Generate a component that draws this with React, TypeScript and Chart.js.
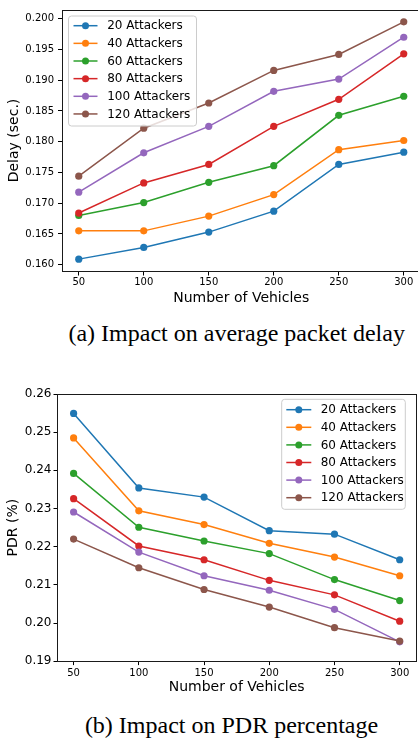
import React, { useEffect, useRef } from 'react';
import { Chart, registerables } from 'chart.js';

Chart.register(...registerables);

// ---------------- data ----------------
const vehicles = [50, 100, 150, 200, 250, 300];
const seriesLabels = ['20 Attackers', '40 Attackers', '60 Attackers', '80 Attackers', '100 Attackers', '120 Attackers'];
const seriesColors = ['#1f77b4', '#ff7f0e', '#2ca02c', '#d62728', '#9467bd', '#8c564b'];

const delay20 = [0.1609, 0.1628, 0.1653, 0.1687, 0.1763, 0.1783];
const delay40 = [0.1655, 0.1655, 0.1679, 0.1714, 0.1787, 0.1802];
const delay60 = [0.1680, 0.1701, 0.1734, 0.1761, 0.1843, 0.1874];
const delay80 = [0.1684, 0.1733, 0.1763, 0.1825, 0.1869, 0.1943];
const delay100 = [0.1718, 0.1782, 0.1825, 0.1882, 0.1902, 0.1970];
const delay120 = [0.1744, 0.1822, 0.1863, 0.1916, 0.1942, 0.1995];

const pdr20 = [0.2549, 0.2354, 0.2330, 0.2242, 0.2233, 0.2166];
const pdr40 = [0.2485, 0.2294, 0.2258, 0.2209, 0.2173, 0.2124];
const pdr60 = [0.2392, 0.2251, 0.2215, 0.2182, 0.2114, 0.2059];
const pdr80 = [0.2326, 0.2202, 0.2166, 0.2112, 0.2074, 0.2005];
const pdr100 = [0.2291, 0.2186, 0.2124, 0.2086, 0.2036, 0.1951];
const pdr120 = [0.2220, 0.2145, 0.2088, 0.2042, 0.1988, 0.1953];

const delayTicks = [0.160, 0.165, 0.170, 0.175, 0.180, 0.185, 0.190, 0.195, 0.200];
const pdrTicks = [0.19, 0.20, 0.21, 0.22, 0.23, 0.24, 0.25, 0.26];

const delaySeries = [delay20, delay40, delay60, delay80, delay100, delay120];
const pdrSeries = [pdr20, pdr40, pdr60, pdr80, pdr100, pdr120];

// ---------------- styling helpers ----------------
const FONT = '"DejaVu Sans", Verdana, sans-serif';

const framePlugin = {
  id: 'frame',
  afterDatasetsDraw(chart: any) {
    const { ctx, chartArea: a } = chart;
    ctx.save();
    ctx.strokeStyle = '#1a1a1a';
    ctx.lineWidth = 1;
    const l = Math.floor(a.left) + 0.5;
    const t = Math.floor(a.top) + 0.5;
    const r = Math.floor(a.right) + 0.5;
    const b = Math.floor(a.bottom) + 0.5;
    ctx.strokeRect(l, t, r - l, b - t);
    ctx.restore();
  },
};

const legendPlugin = {
  id: 'inlegend',
  afterDraw(chart: any, _args: any, opts: any) {
    const { ctx, chartArea: a } = chart;
    const x0 = opts.left != null ? a.left + opts.left : a.right - opts.right - opts.width;
    const y0 = a.top + opts.top;
    const w = opts.width;
    const h = opts.height;
    const rad = 3;
    ctx.save();
    ctx.beginPath();
    ctx.moveTo(x0 + rad, y0);
    ctx.lineTo(x0 + w - rad, y0);
    ctx.quadraticCurveTo(x0 + w, y0, x0 + w, y0 + rad);
    ctx.lineTo(x0 + w, y0 + h - rad);
    ctx.quadraticCurveTo(x0 + w, y0 + h, x0 + w - rad, y0 + h);
    ctx.lineTo(x0 + rad, y0 + h);
    ctx.quadraticCurveTo(x0, y0 + h, x0, y0 + h - rad);
    ctx.lineTo(x0, y0 + rad);
    ctx.quadraticCurveTo(x0, y0, x0 + rad, y0);
    ctx.closePath();
    ctx.fillStyle = 'rgba(255,255,255,0.8)';
    ctx.fill();
    ctx.strokeStyle = '#cccccc';
    ctx.lineWidth = 1;
    ctx.stroke();

    const ds = chart.data.datasets;
    ds.forEach((d: any, i: number) => {
      const cy = y0 + opts.firstRow + i * opts.rowH;
      ctx.strokeStyle = d.borderColor;
      ctx.lineWidth = 1.5;
      ctx.beginPath();
      ctx.moveTo(x0 + opts.lineStart, cy);
      ctx.lineTo(x0 + opts.lineEnd, cy);
      ctx.stroke();
      ctx.fillStyle = d.borderColor;
      ctx.beginPath();
      ctx.arc(x0 + (opts.lineStart + opts.lineEnd) / 2, cy, 3.5, 0, Math.PI * 2);
      ctx.fill();
      ctx.fillStyle = '#000';
      ctx.font = `12px ${FONT}`;
      ctx.textBaseline = 'middle';
      ctx.textAlign = 'left';
      ctx.fillText(d.label, x0 + opts.textX, cy + 0.5);
    });
    ctx.restore();
  },
};

function makeDatasets(series: number[][]) {
  return series.map((vals, i) => ({
    label: seriesLabels[i],
    data: vals.map((v, j) => ({ x: vehicles[j], y: v })),
    borderColor: seriesColors[i],
    backgroundColor: seriesColors[i],
    pointBackgroundColor: seriesColors[i],
    pointBorderWidth: 0,
    pointRadius: 3.6,
    borderWidth: 1.5,
    tension: 0,
    order: series.length - i,
  }));
}

function makeConfig(p: any) {
  return {
    type: 'line',
    data: { datasets: makeDatasets(p.series) },
    plugins: [framePlugin, legendPlugin],
    options: {
      animation: false,
      responsive: false,
      devicePixelRatio: 1,
      layout: { padding: p.padding },
      plugins: {
        legend: { display: false },
        tooltip: { enabled: false },
        inlegend: p.legend,
      },
      scales: {
        x: {
          type: 'linear',
          min: 37.5,
          max: 312.5,
          afterBuildTicks: (s: any) => { s.ticks = vehicles.map((v) => ({ value: v })); },
          afterFit: (s: any) => { s.height = p.xHeight; },
          ticks: {
            autoSkip: false,
            maxRotation: 0,
            padding: p.xTickPad,
            color: '#000',
            font: { family: FONT, size: 10 },
            callback: (v: any) => String(v),
          },
          grid: { display: true, drawOnChartArea: false, drawTicks: true, tickLength: p.tickLen, color: '#000' },
          border: { display: false },
          title: {
            display: true,
            text: 'Number of Vehicles',
            color: '#000',
            font: { family: FONT, size: 14 },
            padding: { top: 0, bottom: p.xTitlePad },
          },
        },
        y: {
          type: 'linear',
          min: p.yMin,
          max: p.yMax,
          afterBuildTicks: (s: any) => { s.ticks = p.yTicks.map((v: number) => ({ value: v })); },
          afterFit: (s: any) => { s.width = p.yWidth; },
          ticks: {
            autoSkip: false,
            padding: p.yTickPad,
            color: '#000',
            font: { family: FONT, size: p.yTickSize },
            callback: (v: any) => Number(v).toFixed(p.decimals),
          },
          grid: { display: true, drawOnChartArea: false, drawTicks: true, tickLength: p.tickLen, color: '#000' },
          border: { display: false },
          title: {
            display: true,
            text: p.yTitle,
            color: '#000',
            font: { family: FONT, size: 14 },
            padding: { top: p.yTitlePad, bottom: 0 },
          },
        },
      },
    },
  };
}

function ChartCanvas(props: { params: any; left: number; top: number; width: number; height: number }) {
  const ref = useRef<HTMLCanvasElement | null>(null);
  useEffect(() => {
    if (!ref.current) return;
    const chart = new Chart(ref.current, makeConfig(props.params) as any);
    return () => chart.destroy();
  }, []);
  return (
    <canvas
      ref={ref}
      width={props.width}
      height={props.height}
      style={{ position: 'absolute', left: props.left, top: props.top, width: props.width, height: props.height }}
    />
  );
}

const delayParams = {
  series: delaySeries,
  yMin: 0.15897,
  yMax: 0.20143,
  yTicks: delayTicks,
  decimals: 3,
  yTitle: 'Delay (sec.)',
  yTickSize: 10,
  padding: { left: 0, top: 3, right: 1.6, bottom: 0 },
  xHeight: 39,
  yWidth: 62.5,
  tickLen: 4.5,
  xTickPad: 1,
  yTickPad: 4,
  xTitlePad: 3.6,
  yTitlePad: 5.5,
  legend: { left: 6, top: 6, width: 128, height: 110, firstRow: 9.7, rowH: 17.65, lineStart: 5, lineEnd: 29, textX: 38.7 },
};

const pdrParams = {
  series: pdrSeries,
  yMin: 0.19,
  yMax: 0.26,
  yTicks: pdrTicks,
  decimals: 2,
  yTitle: 'PDR (%)',
  yTickSize: 12,
  padding: { left: 0, top: 14, right: 2, bottom: 0 },
  xHeight: 38.7,
  yWidth: 57.3,
  tickLen: 3.8,
  xTickPad: 2,
  yTickPad: 2,
  xTitlePad: 3.9,
  yTitlePad: 4.5,
  legend: { right: 10.7, top: 5.3, width: 123.6, height: 110, firstRow: 10.4, rowH: 17.6, lineStart: 4.6, lineEnd: 29.6, textX: 39 },
};

const captionStyle: React.CSSProperties = {
  position: 'absolute',
  width: 500,
  textAlign: 'center',
  whiteSpace: 'nowrap',
  fontFamily: '"Liberation Serif", "Times New Roman", serif',
  fontSize: 24,
  lineHeight: '24px',
  color: '#000',
};

export default function App() {
  return (
    <div style={{ position: 'absolute', left: 0, top: 0, width: 418, height: 740, overflow: 'hidden', background: '#fff' }}>
      <ChartCanvas params={delayParams} left={0} top={0} width={424} height={310} />
      <div style={{ ...captionStyle, left: 236.7 - 250, top: 321 }}>(a) Impact on average packet delay</div>
      <ChartCanvas params={pdrParams} left={0} top={380} width={420} height={320} />
      <div style={{ ...captionStyle, left: 231.5 - 250, top: 713.4 }}>(b) Impact on PDR percentage</div>
    </div>
  );
}
